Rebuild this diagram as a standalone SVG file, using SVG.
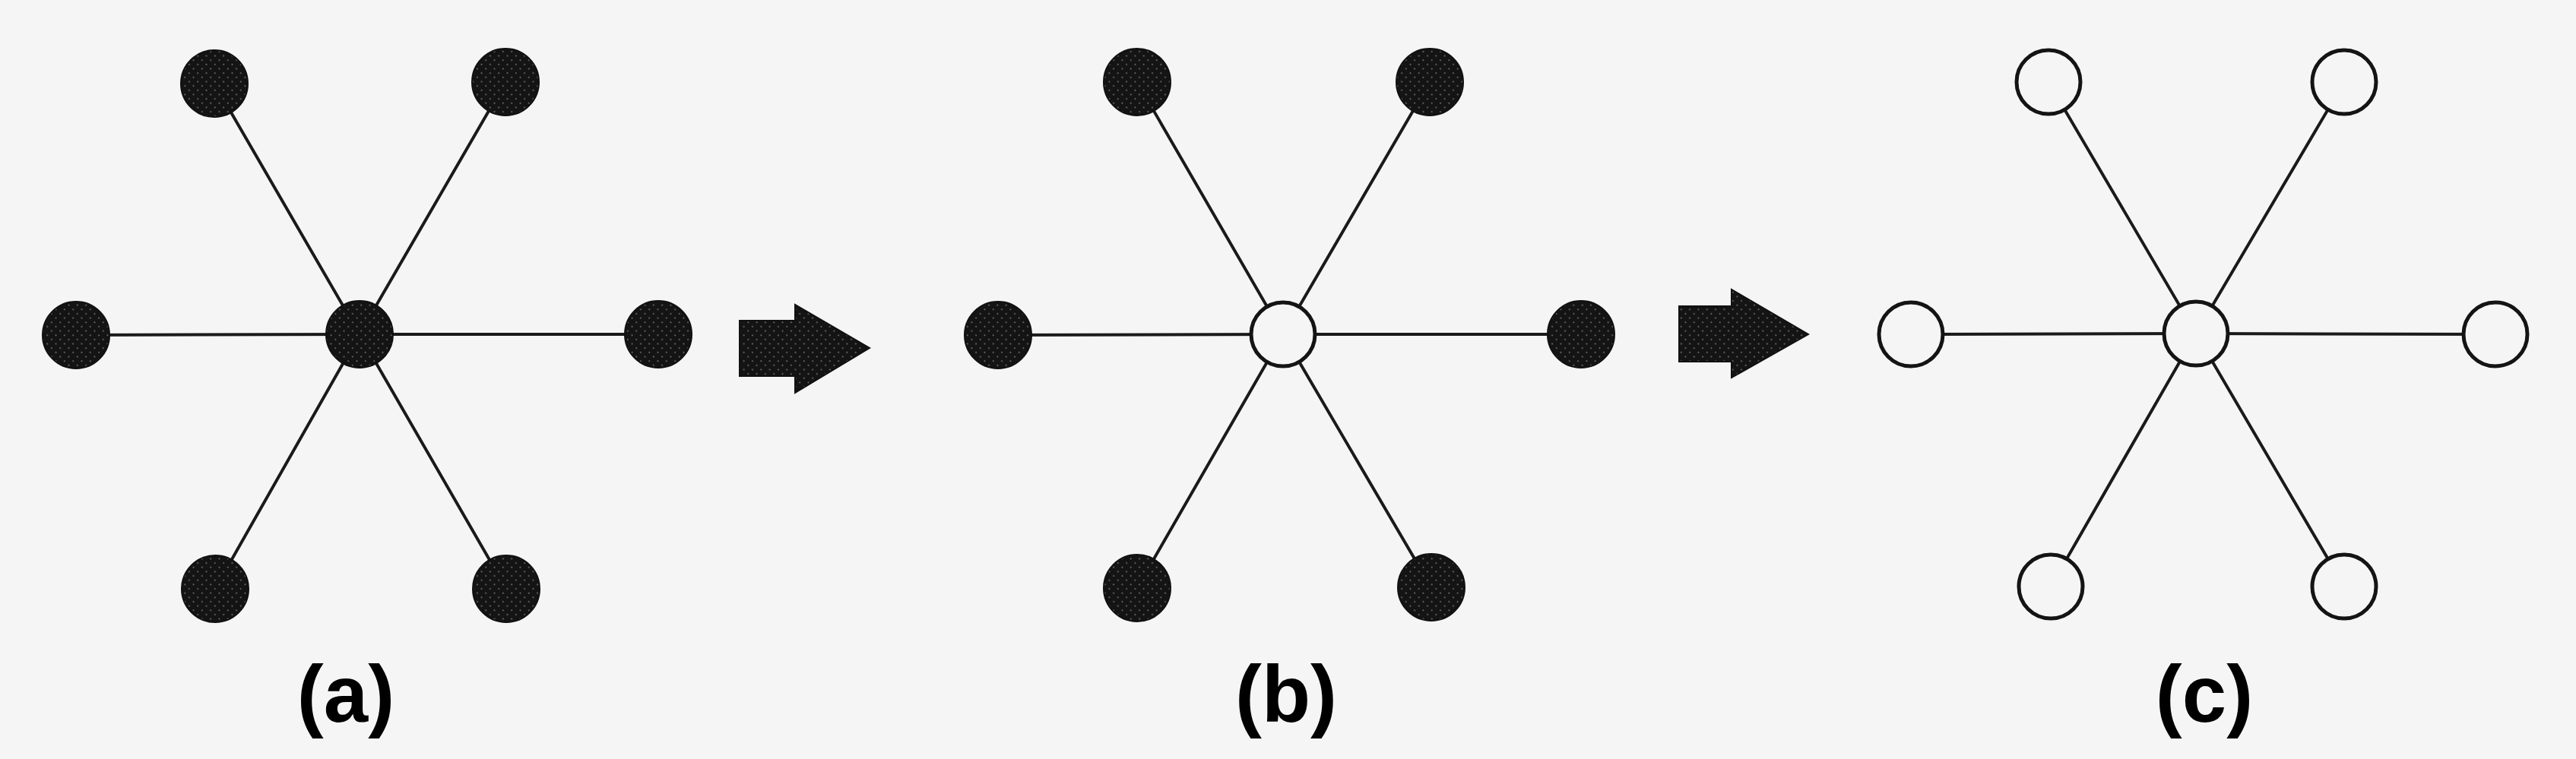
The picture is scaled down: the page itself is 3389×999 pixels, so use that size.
<svg xmlns="http://www.w3.org/2000/svg" width="3389" height="999" viewBox="0 0 3389 999">
  <defs>
    <pattern id="halftone" width="8" height="8" patternUnits="userSpaceOnUse" patternTransform="rotate(45)">
      <rect width="8" height="8" fill="#141414"/>
      <circle cx="4" cy="4" r="1.1" fill="#6a6a6a"/>
    </pattern>
  </defs>
  <style>
    .edge { stroke: #1a1a1a; stroke-width: 4; stroke-linecap: round; fill: none; }
    .filled { fill: url(#halftone); stroke: #111; stroke-width: 2; }
    .open { fill: #f5f5f5; stroke: #141414; stroke-width: 5; }
    .arrow { fill: url(#halftone); stroke: #111; stroke-width: 2; stroke-linejoin: miter; }
    .label { font-family: "Liberation Sans", Arial, sans-serif; font-weight: bold; font-size: 105px; fill: #000; text-anchor: middle; }
  </style>
  <rect width="3389" height="999" fill="#f5f5f5"/>

  <g id="connectors">
    <!-- panel a -->
    <line class="edge" x1="473" y1="440" x2="100" y2="441"/>
    <line class="edge" x1="473" y1="440" x2="866" y2="440"/>
    <line class="edge" x1="473" y1="440" x2="282" y2="110"/>
    <line class="edge" x1="473" y1="440" x2="665" y2="108"/>
    <line class="edge" x1="473" y1="440" x2="283" y2="775"/>
    <line class="edge" x1="473" y1="440" x2="666" y2="775"/>
    <!-- panel b -->
    <line class="edge" x1="1688" y1="440" x2="1313" y2="441"/>
    <line class="edge" x1="1688" y1="440" x2="2080" y2="440"/>
    <line class="edge" x1="1688" y1="440" x2="1496" y2="108"/>
    <line class="edge" x1="1688" y1="440" x2="1881" y2="108"/>
    <line class="edge" x1="1688" y1="440" x2="1496" y2="774"/>
    <line class="edge" x1="1688" y1="440" x2="1883" y2="773"/>
    <!-- panel c -->
    <line class="edge" x1="2889" y1="439" x2="2514" y2="440"/>
    <line class="edge" x1="2889" y1="439" x2="3283" y2="440"/>
    <line class="edge" x1="2889" y1="439" x2="2695" y2="108"/>
    <line class="edge" x1="2889" y1="439" x2="3084" y2="108"/>
    <line class="edge" x1="2889" y1="439" x2="2698" y2="772"/>
    <line class="edge" x1="2889" y1="439" x2="3084" y2="772"/>
  </g>

  <g id="panel-a">
    <g id="a-hub"><circle class="filled" cx="473" cy="440" r="44"/></g>
    <g id="a-left"><circle class="filled" cx="100" cy="441" r="44"/></g>
    <g id="a-right"><circle class="filled" cx="866" cy="440" r="44"/></g>
    <g id="a-top-left"><circle class="filled" cx="282" cy="110" r="44"/></g>
    <g id="a-top-right"><circle class="filled" cx="665" cy="108" r="44"/></g>
    <g id="a-bottom-left"><circle class="filled" cx="283" cy="775" r="44"/></g>
    <g id="a-bottom-right"><circle class="filled" cx="666" cy="775" r="44"/></g>
    <text class="label" x="455" y="950">(a)</text>
  </g>

  <g id="arrow-1">
    <polygon class="arrow" points="973,422 1046,422 1046,401 1144,458 1046,517 1046,495 973,495"/>
  </g>

  <g id="panel-b">
    <g id="b-hub"><circle class="open" cx="1688" cy="440" r="42"/></g>
    <g id="b-left"><circle class="filled" cx="1313" cy="441" r="44"/></g>
    <g id="b-right"><circle class="filled" cx="2080" cy="440" r="44"/></g>
    <g id="b-top-left"><circle class="filled" cx="1496" cy="108" r="44"/></g>
    <g id="b-top-right"><circle class="filled" cx="1881" cy="108" r="44"/></g>
    <g id="b-bottom-left"><circle class="filled" cx="1496" cy="774" r="44"/></g>
    <g id="b-bottom-right"><circle class="filled" cx="1883" cy="773" r="44"/></g>
    <text class="label" x="1692" y="950">(b)</text>
  </g>

  <g id="arrow-2">
    <polygon class="arrow" points="2209,403 2278,403 2278,381 2379,440 2278,497 2278,476 2209,476"/>
  </g>

  <g id="panel-c">
    <g id="c-hub"><circle class="open" cx="2889" cy="439" r="42"/></g>
    <g id="c-left"><circle class="open" cx="2514" cy="440" r="42"/></g>
    <g id="c-right"><circle class="open" cx="3283" cy="440" r="42"/></g>
    <g id="c-top-left"><circle class="open" cx="2695" cy="108" r="42"/></g>
    <g id="c-top-right"><circle class="open" cx="3084" cy="108" r="42"/></g>
    <g id="c-bottom-left"><circle class="open" cx="2698" cy="772" r="42"/></g>
    <g id="c-bottom-right"><circle class="open" cx="3084" cy="772" r="42"/></g>
    <text class="label" x="2900" y="950">(c)</text>
  </g>
</svg>
